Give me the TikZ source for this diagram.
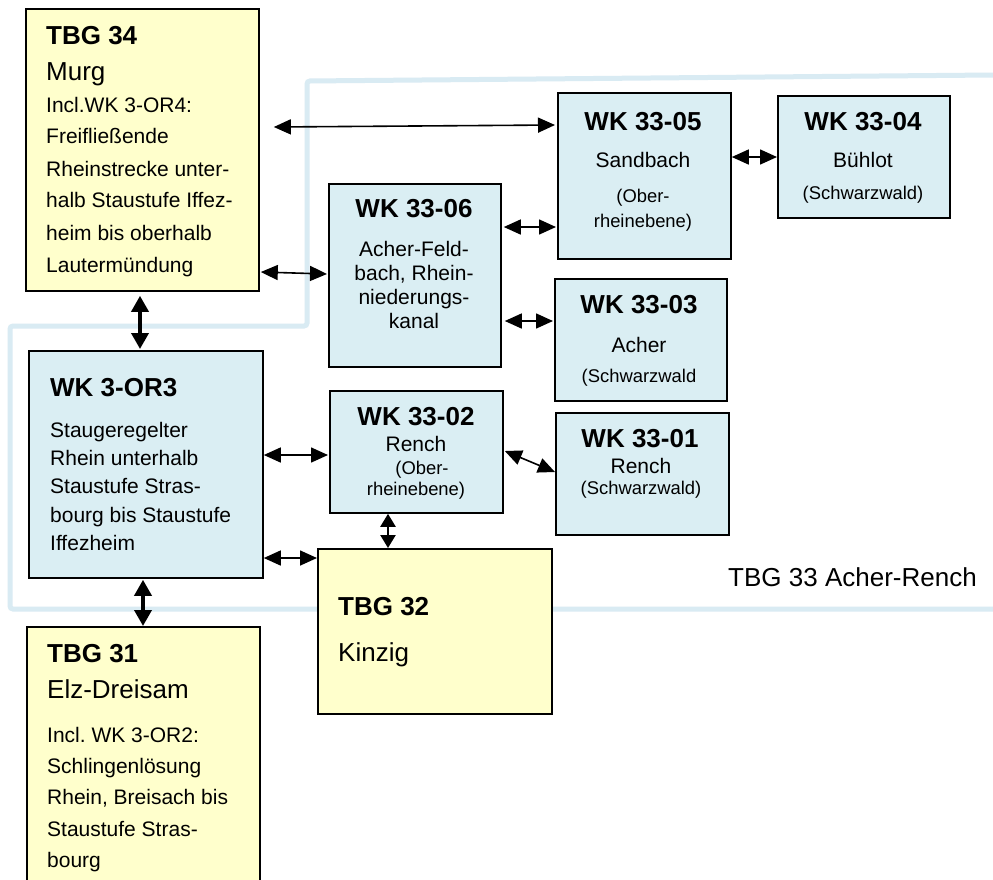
\documentclass[tikz,border=0pt]{standalone}
\usepackage{fontspec}
\setmainfont{Liberation Sans}
\usetikzlibrary{arrows.meta,calc}
\definecolor{yfill}{HTML}{FFFFCC}
\definecolor{bfill}{HTML}{DAEEF3}
\definecolor{regionline}{HTML}{D9EBF3}
\tikzset{
  box/.style={draw=black, line width=1.8pt, inner sep=0pt, anchor=north west},
  ybox/.style={box, fill=yfill},
  bbox/.style={box, fill=bfill},
  arr/.style={{Triangle[length=17pt 0 1,width=15pt 0 1]}-{Triangle[length=17pt 0 1,width=15pt 0 1]}, line width=1.6pt},
  marr/.style={{Triangle[length=13pt 0 1,width=15pt 0 1]}-{Triangle[length=13pt 0 1,width=15pt 0 1]}, line width=2.4pt},
  tarr/.style={{Triangle[length=16pt 0 1,width=17pt 0 1]}-{Triangle[length=16pt 0 1,width=17pt 0 1]}, line width=3.6pt},
  tl/.style={inner sep=0pt, anchor=base west, font=\fontsize{26}{30}\selectfont\bfseries},
  tlc/.style={tl, anchor=base},
  bg/.style={inner sep=0pt, anchor=base west, font=\fontsize{26}{30}\selectfont},
  bd/.style={inner sep=0pt, anchor=base west, font=\fontsize{21}{25}\selectfont},
  bdc/.style={bd, anchor=base},
  sm/.style={inner sep=0pt, anchor=base, font=\fontsize{18.4}{22}\selectfont},
  region/.style={draw=regionline, line width=5pt, rounded corners=3pt}
}
\begin{document}
\begin{tikzpicture}[x=1pt,y=-1pt]
\clip (0,0) rectangle (993,879);
\fill[white] (0,0) rectangle (993,879);
\useasboundingbox (0,0) rectangle (993,879);

% region TBG 33
\draw[region] (993,75) -- (307,81) -- (307,326) -- (10,326) -- (10,609) -- (993,609);

% boxes
\node[ybox, minimum width=233, minimum height=282] (b34) at (25,8) {};
\node[bbox, minimum width=173, minimum height=166] (b0305) at (557,92) {};
\node[bbox, minimum width=172, minimum height=122] (b0304) at (777,95) {};
\node[bbox, minimum width=172, minimum height=183] (b0306) at (328,183) {};
\node[bbox, minimum width=172, minimum height=122] (b0303) at (554,278) {};
\node[bbox, minimum width=173, minimum height=122] (b0302) at (329,390) {};
\node[bbox, minimum width=173, minimum height=122] (b0301) at (555,412) {};
\node[bbox, minimum width=234, minimum height=227] (or3) at (28,350) {};
\node[ybox, minimum width=234, minimum height=165] (b32) at (317,548) {};
\node[ybox, minimum width=233, minimum height=280] (b31) at (26,626) {};

% connectors
\draw[arr] ($(b34.north east)+(14,119)$) -- ($(b0305.north west)+(-2,33)$);
\draw[arr] ($(b34.north east)+(1,264)$) -- ($(b0306.north west)+(-1,91)$);
\draw[arr] ($(b0306.north east)+(2,44)$) -- ($(b0305.north west)+(-1,135)$);
\draw[arr] ($(b0306.north east)+(3,138)$) -- ($(b0303.north west)+(-1,43)$);
\draw[arr] ($(b0305.north east)+(0,65)$) -- ($(b0304.north west)+(0,62)$);
\draw[tarr] ($(b34.south west)+(115,4)$) -- ($(or3.north west)+(112,-1)$);
\draw[arr] ($(or3.north east)+(0,105)$) -- ($(b0302.north west)+(-1,65)$);
\draw[arr] ($(or3.north east)+(0,208)$) -- ($(b32.north west)+(0,10)$);
\draw[tarr] ($(or3.south west)+(115,1)$) -- ($(b31.north west)+(117,0)$);
\draw[marr] ($(b0302.south west)+(59,0)$) -- ($(b32.north west)+(71,0)$);
\draw[arr] ($(b0302.north east)+(1,61)$) -- ($(b0301.north west)+(0,60)$);

% TBG 34
\node[tl] (t34a) at (46,44) {TBG 34};
\node[bg] (t34b) at (46,80) {Murg};
\node[bd] (t34c) at (46,112) {Incl.WK 3-OR4:};
\node[bd] (t34d) at (46,143) {Freifließende};
\node[bd] (t34e) at (46,176) {Rheinstrecke unter-};
\node[bd] (t34f) at (46,207) {halb Staustufe Iffez-};
\node[bd] (t34g) at (46,240) {heim bis oberhalb};
\node[bd] (t34h) at (46,272) {Lautermündung};

% WK 33-06
\node[tlc] (t06a) at (414,217) {WK 33-06};
\node[bdc] (t06b) at (414,256) {Acher-Feld-};
\node[bdc] (t06c) at (414,280) {bach, Rhein-};
\node[bdc] (t06d) at (414,304) {niederungs-};
\node[bdc] (t06e) at (414,328) {kanal};

% WK 33-05
\node[tlc] (t05a) at (643,130) {WK 33-05};
\node[bdc] (t05b) at (643,167) {Sandbach};
\node[sm] (t05c) at (643,202) {(Ober-};
\node[sm] (t05d) at (643,227) {rheinebene)};

% WK 33-04
\node[tlc] (t04a) at (863,130) {WK 33-04};
\node[bdc] (t04b) at (863,167) {Bühlot};
\node[sm] (t04c) at (863,199) {(Schwarzwald)};

% WK 33-03
\node[tlc] (t03a) at (639,313) {WK 33-03};
\node[bdc] (t03b) at (639,352) {Acher};
\node[sm] (t03c) at (639,382) {(Schwarzwald};

% WK 33-02
\node[tlc] (t02a) at (416,425) {WK 33-02};
\node[bdc] (t02b) at (416,451) {Rench};
\node[sm] (t02c) at (422,474) {(Ober-};
\node[sm] (t02d) at (416,495) {rheinebene)};

% WK 33-01
\node[tlc] (t01a) at (640,447) {WK 33-01};
\node[bdc] (t01b) at (641,473) {Rench};
\node[sm] (t01c) at (641,494) {(Schwarzwald)};

% WK 3-OR3
\node[tl] (tora) at (50,396) {WK 3-OR3};
\node[bd] (torb) at (50,437) {Staugeregelter};
\node[bd] (torc) at (50,465) {Rhein unterhalb};
\node[bd] (tord) at (50,493) {Staustufe Stras-};
\node[bd] (tore) at (50,522) {bourg bis Staustufe};
\node[bd] (torf) at (50,550) {Iffezheim};

% TBG 32
\node[tl] (t32a) at (338,615) {TBG 32};
\node[bg] (t32b) at (338,661) {Kinzig};

% TBG 31
\node[tl] (t31a) at (47,662) {TBG 31};
\node[bg] (t31b) at (47,698) {Elz-Dreisam};
\node[bd] (t31c) at (47,742) {Incl.\ WK 3-OR2:};
\node[bd] (t31d) at (47,773) {Schlingenlösung};
\node[bd] (t31e) at (47,804) {Rhein, Breisach bis};
\node[bd] (t31f) at (47,836) {Staustufe Stras-};
\node[bd] (t31g) at (47,867) {bourg};

% region label
\node[bg] (t33) at (728,586) {TBG 33 Acher-Rench};
\end{tikzpicture}
\end{document}
